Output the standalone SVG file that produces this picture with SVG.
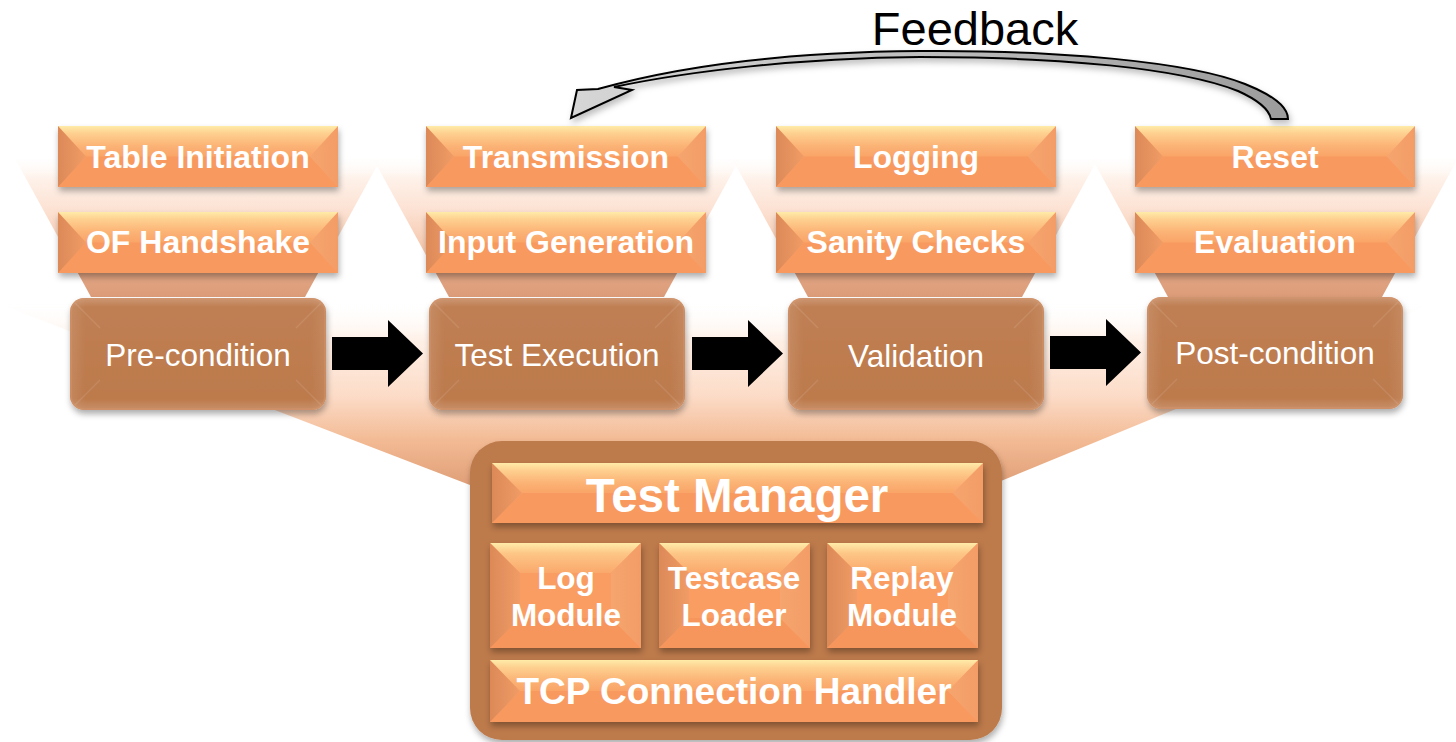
<svg xmlns="http://www.w3.org/2000/svg" width="1456" height="742" viewBox="0 0 1456 742">
<style>
  text { font-family: "Liberation Sans", Arial, sans-serif; fill: #ffffff; text-anchor: middle; }
  .lbl { font-weight: bold; font-size: 32px; }
  .mdl { font-weight: bold; font-size: 31.5px; }
  .stg { font-size: 31.5px; }
  .big { font-weight: bold; font-size: 47.5px; }
  .tcp { font-weight: bold; font-size: 37px; }
  .fb  { font-size: 47px; fill: #000000; }
  .blk { fill: #000000; }
</style>
<defs>
  <!-- drop shadow shared by all raised shapes -->
  <filter id="sh" x="-10%" y="-20%" width="125%" height="160%">
    <feDropShadow dx="1" dy="4" stdDeviation="3" flood-color="#000" flood-opacity="0.32"/>
  </filter>
  <filter id="shSoft" x="-5%" y="-30%" width="110%" height="180%">
    <feDropShadow dx="2" dy="4" stdDeviation="3" flood-color="#000" flood-opacity="0.25"/>
  </filter>

  <!-- column funnels: fade in from top, deepen towards the stage box -->
  <linearGradient id="gFunnel" x1="0" y1="0" x2="0" y2="1">
    <stop offset="0" stop-color="#ffffff" stop-opacity="0"/>
    <stop offset="0.18" stop-color="#FEF1E9"/>
    <stop offset="0.4" stop-color="#FCE1D2"/>
    <stop offset="0.74" stop-color="#F3C0A2"/>
    <stop offset="0.83" stop-color="#E2A583"/>
    <stop offset="1" stop-color="#DC9C79"/>
  </linearGradient>
  <!-- wide funnel from the stages into the Test Manager -->
  <linearGradient id="gBig" gradientUnits="userSpaceOnUse" x1="0" y1="300" x2="0" y2="490">
    <stop offset="0" stop-color="#ffffff" stop-opacity="0"/>
    <stop offset="0.22" stop-color="#FEEFE5"/>
    <stop offset="0.5" stop-color="#FCDCC8"/>
    <stop offset="0.75" stop-color="#F2B992"/>
    <stop offset="1" stop-color="#DD9C74"/>
  </linearGradient>

  <!-- bevelled orange tiles -->
  <linearGradient id="gFace" x1="0" y1="0" x2="0" y2="1">
    <stop offset="0" stop-color="#FFEBA8"/>
    <stop offset="0.12" stop-color="#FED090"/>
    <stop offset="0.32" stop-color="#FBB476"/>
    <stop offset="0.5" stop-color="#FAA468"/>
    <stop offset="1" stop-color="#F99E62"/>
  </linearGradient>
  <linearGradient id="gTopFacet" x1="0" y1="0" x2="0" y2="1">
    <stop offset="0" stop-color="#FFEBA8"/>
    <stop offset="0.35" stop-color="#FDC686"/>
    <stop offset="1" stop-color="#FAA86B"/>
  </linearGradient>
  <linearGradient id="gLeft" x1="0" y1="0" x2="1" y2="0">
    <stop offset="0" stop-color="#DC8958"/>
    <stop offset="1" stop-color="#F19C66"/>
  </linearGradient>
  <linearGradient id="gRight" x1="0" y1="0" x2="1" y2="0">
    <stop offset="0" stop-color="#F6A56F"/>
    <stop offset="1" stop-color="#F39C66"/>
  </linearGradient>

  <!-- brown stage boxes -->
  <linearGradient id="gStage" x1="0" y1="0" x2="0" y2="1">
    <stop offset="0" stop-color="#ffffff" stop-opacity="0.22"/>
    <stop offset="0.08" stop-color="#ffffff" stop-opacity="0.04"/>
    <stop offset="0.9" stop-color="#ffffff" stop-opacity="0"/>
    <stop offset="1" stop-color="#ffffff" stop-opacity="0.16"/>
  </linearGradient>
  <linearGradient id="gStageH" x1="0" y1="0" x2="1" y2="0">
    <stop offset="0" stop-color="#ffffff" stop-opacity="0.10"/>
    <stop offset="0.06" stop-color="#ffffff" stop-opacity="0"/>
    <stop offset="0.94" stop-color="#ffffff" stop-opacity="0"/>
    <stop offset="1" stop-color="#ffffff" stop-opacity="0.08"/>
  </linearGradient>

  <!-- feedback arrow fill -->
  <linearGradient id="gArc" x1="0" y1="0" x2="1" y2="0">
    <stop offset="0" stop-color="#D6D6D6"/>
    <stop offset="0.5" stop-color="#BDBDBD"/>
    <stop offset="1" stop-color="#9C9C9C"/>
  </linearGradient>

  <!-- 280x61 bevelled tile -->
  <g id="tile">
    <rect width="280" height="61" fill="url(#gFace)"/>
    <polygon points="0,61 28,30.5 252,30.5 280,61" fill="#F8995E"/>
    <polygon points="0,0 28,30.5 0,61" fill="url(#gLeft)"/>
    <polygon points="280,0 252,30.5 280,61" fill="url(#gRight)"/>
  </g>

  <!-- 151x105 bevelled module tile -->
  <g id="mod">
    <rect width="151" height="105" fill="#F99D62"/>
    <polygon points="0,0 151,0 121,30 30,30" fill="url(#gTopFacet)"/>
    <polygon points="0,105 30,75 121,75 151,105" fill="#F6965B"/>
    <polygon points="0,0 30,30 30,75 0,105" fill="url(#gLeft)"/>
    <polygon points="151,0 121,30 121,75 151,105" fill="url(#gRight)"/>
  </g>

  <!-- 256x112 stage box -->
  <g id="stage">
    <rect width="256" height="112" rx="14" fill="#BD7A4C"/>
    <rect width="256" height="112" rx="14" fill="url(#gStageH)"/>
    <rect width="256" height="112" rx="14" fill="url(#gStage)"/>
    <g stroke="#ffffff" stroke-opacity="0.1" stroke-width="1.5">
      <line x1="5" y1="5" x2="30" y2="30"/>
      <line x1="251" y1="5" x2="226" y2="30"/>
      <line x1="5" y1="107" x2="30" y2="82"/>
      <line x1="251" y1="107" x2="226" y2="82"/>
    </g>
    <rect x="1" y="1" width="254" height="110" rx="13" fill="none" stroke="#D7966C" stroke-opacity="0.55" stroke-width="1.5"/>
  </g>

  <!-- block arrow between stages -->
  <polygon id="step" points="0,-16.5 56,-16.5 56,-33.5 91,0 56,33.5 56,16.5 0,16.5"/>
</defs>

<rect width="1456" height="742" fill="#ffffff"/>

<!-- background funnels -->
<g id="funnels">
  <polygon points="-11,300 1441,300 979,490 483,490" fill="url(#gBig)"/>
  <polygon points="12,153 384,153 305,297 91,297" fill="url(#gFunnel)"/>
  <polygon points="370,153 743,153 664,297 449,297" fill="url(#gFunnel)"/>
  <polygon points="729,153 1101,153 1022,297 808,297" fill="url(#gFunnel)"/>
  <polygon points="1089,153 1461,153 1382,297 1168,297" fill="url(#gFunnel)"/>
</g>

<!-- column 1 -->
<g id="col-precondition">
  <use href="#tile" x="58" y="126" filter="url(#sh)"/>
  <text class="lbl" x="198" y="168">Table Initiation</text>
  <use href="#tile" x="58" y="212" filter="url(#sh)"/>
  <text class="lbl" x="198" y="253">OF Handshake</text>
  <use href="#stage" x="70" y="298" filter="url(#sh)"/>
  <text class="stg" x="198" y="366">Pre-condition</text>
</g>

<!-- column 2 -->
<g id="col-execution">
  <use href="#tile" x="426" y="126" filter="url(#sh)"/>
  <text class="lbl" x="566" y="168">Transmission</text>
  <use href="#tile" x="426" y="212" filter="url(#sh)"/>
  <text class="lbl" x="566" y="253">Input Generation</text>
  <use href="#stage" x="429" y="298" filter="url(#sh)"/>
  <text class="stg" x="557" y="366">Test Execution</text>
</g>

<!-- column 3 -->
<g id="col-validation">
  <use href="#tile" x="776" y="126" filter="url(#sh)"/>
  <text class="lbl" x="916" y="168">Logging</text>
  <use href="#tile" x="776" y="212" filter="url(#sh)"/>
  <text class="lbl" x="916" y="253">Sanity Checks</text>
  <use href="#stage" x="788" y="298" filter="url(#sh)"/>
  <text class="stg" x="916" y="367">Validation</text>
</g>

<!-- column 4 -->
<g id="col-postcondition">
  <use href="#tile" x="1135" y="126" filter="url(#sh)"/>
  <text class="lbl" x="1275" y="168">Reset</text>
  <use href="#tile" x="1135" y="212" filter="url(#sh)"/>
  <text class="lbl" x="1275" y="253">Evaluation</text>
  <use href="#stage" x="1147" y="297" filter="url(#sh)"/>
  <text class="stg" x="1275" y="364">Post-condition</text>
</g>

<!-- Test Manager block -->
<g id="test-manager">
  <rect x="470" y="441" width="532" height="299" rx="32" fill="#BD7A4C" filter="url(#sh)"/>
  <g transform="translate(492,463)" filter="url(#sh)">
    <rect width="491" height="60" fill="url(#gFace)"/>
    <polygon points="0,60 30,30 461,30 491,60" fill="#F8995E"/>
    <polygon points="0,0 30,30 0,60" fill="url(#gLeft)"/>
    <polygon points="491,0 461,30 491,60" fill="url(#gRight)"/>
  </g>
  <text class="big" x="737" y="512">Test Manager</text>

  <use href="#mod" x="490" y="543" filter="url(#sh)"/>
  <text class="mdl" x="566" y="589">Log</text>
  <text class="mdl" x="566" y="626">Module</text>

  <use href="#mod" x="659" y="543" filter="url(#sh)"/>
  <text class="mdl" x="734" y="589">Testcase</text>
  <text class="mdl" x="734" y="626">Loader</text>

  <use href="#mod" x="827" y="543" filter="url(#sh)"/>
  <text class="mdl" x="902" y="589">Replay</text>
  <text class="mdl" x="902" y="626">Module</text>

  <g transform="translate(490,660)" filter="url(#sh)">
    <rect width="488" height="62" fill="url(#gFace)"/>
    <polygon points="0,62 30,31 458,31 488,62" fill="#F8995E"/>
    <polygon points="0,0 30,31 0,62" fill="url(#gLeft)"/>
    <polygon points="488,0 458,31 488,62" fill="url(#gRight)"/>
  </g>
  <text class="tcp" x="734" y="704">TCP Connection Handler</text>
</g>

<!-- connectors -->
<g id="connectors">
  <use href="#step" class="blk" x="332" y="353.5"/>
  <use href="#step" class="blk" x="692" y="353.5"/>
  <use href="#step" class="blk" x="1050" y="352.5"/>
  <path d="M571,118 L577,90 L598,89 C680,66 790,52 920,51 C1060,50 1190,62 1245,84 C1275,96 1288,108 1288,119 L1271,119 C1269,109 1258,100 1238,91 C1180,68 1060,57 920,57 C800,58 690,71 614,87 L632,90 Z" fill="url(#gArc)" stroke="#000000" stroke-width="2" stroke-linejoin="miter" filter="url(#shSoft)"/>
  <text class="fb" x="975" y="45">Feedback</text>
</g>
</svg>
